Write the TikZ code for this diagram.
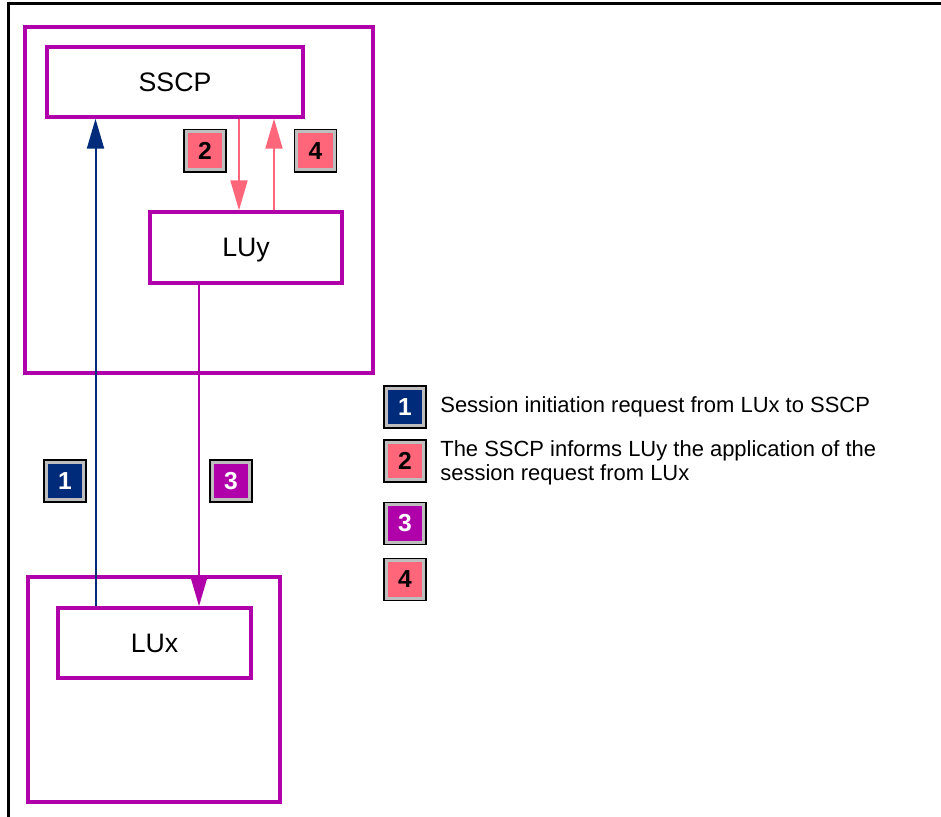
\documentclass[tikz,border=0pt]{standalone}
\usepackage{fontspec}
\setmainfont{Liberation Sans}
\usetikzlibrary{arrows.meta}

\definecolor{snaPurple}{RGB}{175,0,170}
\definecolor{snaNavy}{RGB}{0,42,122}
\definecolor{snaPink}{RGB}{255,102,122}
\definecolor{snaGray}{RGB}{190,190,190}

\begin{document}
\begin{tikzpicture}[x=0.02cm, y=-0.02cm, >={Triangle[length=0.6cm, width=0.34cm]},
    box/.style={draw=snaPurple, line width=0.07cm, fill=white, inner sep=0pt},
    lu/.style={box, text depth=0pt, font=\fontsize{15.2}{18}\selectfont},
    flow/.style={->, draw=#1, line width=0.04cm},
    badge/.style={fill=#1, draw=snaGray, line width=0.06cm,
        preaction={draw=black, line width=0.12cm},
        minimum size=0.76cm, inner sep=0pt, font=\fontsize{14}{16}\selectfont\bfseries},
    legend/.style={anchor=base west, inner sep=0pt, align=left,
        font=\fontsize{12.5}{13.7}\selectfont}]
    \useasboundingbox (0,0) rectangle (941,817);
    \draw[line width=0.06cm] (8.5,817) -- (8.5,4) -- (941,4);

    \node[box, minimum width=6.96cm, minimum height=6.92cm] (hostA) at (199,200) {};
    \node[lu, minimum width=5.12cm, minimum height=1.4cm] (sscp) at (175,82) {SSCP};
    \node[lu, minimum width=3.84cm, minimum height=1.42cm] (luy) at (246,247.5) {LUy};

    \node[box, minimum width=5.04cm, minimum height=4.5cm] (hostB) at (154,689.5) {};
    \node[lu, minimum width=3.86cm, minimum height=1.4cm] (lux) at (154.5,643) {LUx};

    \draw[flow=snaNavy] ([xshift=0.785cm]lux.north west) -- ([xshift=0.785cm]lux.north west |- sscp.south);
    \draw[flow=snaPink] ([xshift=1.815cm]luy.north west |- sscp.south) -- ([xshift=1.815cm]luy.north west);
    \draw[flow=snaPurple] ([xshift=1.015cm]luy.south west) -- ([xshift=1.015cm]luy.south west |- lux.north);
    \draw[flow=snaPink] ([xshift=2.515cm]luy.north west) -- ([xshift=2.515cm]luy.north west |- sscp.south);

    \node[badge=snaNavy, text=white] (b1) at (65,481) {1};
    \node[badge=snaPink] (b2) at (205,151) {2};
    \node[badge=snaPurple, text=white] (b3) at (231,481) {3};
    \node[badge=snaPink] (b4) at (315.5,151) {4};

    \node[badge=snaNavy, text=white] (key1) at (405,407) {1};
    \node[badge=snaPink] (key2) at (405,461) {2};
    \node[badge=snaPurple, text=white] (key3) at (405,523.5) {3};
    \node[badge=snaPink] (key4) at (405,579.5) {4};
    \node[legend] (txt1) at (440,413) {Session initiation request from LUx to SSCP};
    % base of a two-line node sits on its last line
    \node[legend] (txt2) at (440,481) {The SSCP informs LUy the application of the\\session request from LUx};
  \end{tikzpicture}
\end{document}
